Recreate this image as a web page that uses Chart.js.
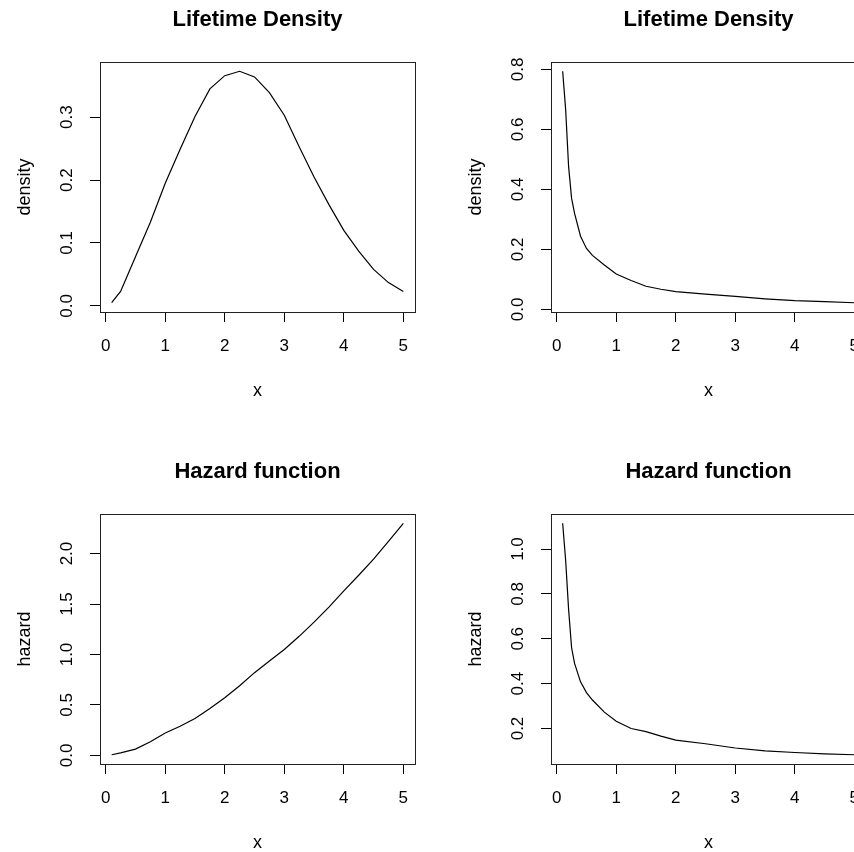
<!DOCTYPE html>
<html>
<head>
<meta charset="utf-8">
<script src="https://cdn.jsdelivr.net/npm/chart.js@4/dist/chart.umd.min.js"></script>
<style>
  body { margin: 0; width: 854px; height: 852px; overflow: hidden; background: #fff; position: relative; }
  .panel { position: absolute; width: 451px; height: 452px; }
</style>
</head>
<body>
<div class="panel" style="left:0;top:0"><canvas id="dens1" width="451" height="452"></canvas></div>
<div class="panel" style="left:451px;top:0"><canvas id="dens2" width="451" height="452"></canvas></div>
<div class="panel" style="left:0;top:452px"><canvas id="haz1" width="451" height="452"></canvas></div>
<div class="panel" style="left:451px;top:452px"><canvas id="haz2" width="451" height="452"></canvas></div>
<script>
// left column: increasing-hazard lifetime
const xLeft = [0.1, 0.25, 0.5, 0.75, 1, 1.25, 1.5, 1.75, 2, 2.25, 2.5, 2.75, 3, 3.25, 3.5, 3.75, 4, 4.25, 4.5, 4.75, 5];
const densityLeft = [0.005, 0.023, 0.078, 0.133, 0.195, 0.249, 0.301, 0.345, 0.366, 0.373, 0.364, 0.339, 0.303, 0.253, 0.205, 0.161, 0.120, 0.087, 0.058, 0.037, 0.023];
const hazardLeft = [0.007, 0.025, 0.063, 0.135, 0.222, 0.29, 0.366, 0.465, 0.572, 0.69, 0.82, 0.935, 1.05, 1.18, 1.32, 1.47, 1.63, 1.785, 1.945, 2.12, 2.3];

// right column: decreasing-hazard lifetime
const xRight = [0.1, 0.15, 0.2, 0.25, 0.3, 0.4, 0.5, 0.6, 0.8, 1, 1.25, 1.5, 1.75, 2, 2.5, 3, 3.5, 4, 4.5, 5];
const densityRight = [0.794, 0.667, 0.475, 0.37, 0.32, 0.244, 0.203, 0.18, 0.148, 0.118, 0.096, 0.077, 0.067, 0.059, 0.051, 0.043, 0.035, 0.029, 0.026, 0.022];
const hazardRight = [1.115, 0.95, 0.73, 0.56, 0.49, 0.408, 0.36, 0.327, 0.273, 0.232, 0.2, 0.186, 0.166, 0.148, 0.132, 0.113, 0.1, 0.093, 0.087, 0.083];

const xTicks = [0, 1, 2, 3, 4, 5];
const yTicksDensLeft = [0, 0.1, 0.2, 0.3];
const yTicksDensRight = [0, 0.2, 0.4, 0.6, 0.8];
const yTicksHazLeft = [0, 0.5, 1, 1.5, 2];
const yTicksHazRight = [0.2, 0.4, 0.6, 0.8, 1.0];

const FONT = "'Liberation Sans', Arial, Helvetica, sans-serif";

// R-style axis range: data range plus 4% each side
function rRange(arr) {
  const lo = Math.min(...arr), hi = Math.max(...arr);
  const pad = (hi - lo) * 0.04;
  return [lo - pad, hi + pad];
}

const boxPlugin = {
  id: 'box',
  afterDatasetsDraw(chart) {
    const { ctx, chartArea: a } = chart;
    ctx.save();
    ctx.strokeStyle = '#222';
    ctx.lineWidth = 1;
    ctx.strokeRect(Math.round(a.left) + 0.5, Math.round(a.top) + 0.5, Math.round(a.width), Math.round(a.height));
    ctx.restore();
  }
};

function makePanel(id, title, yLabel, xs, ys, yTicks) {
  const [xMin, xMax] = rRange(xs);
  const [yMin, yMax] = rRange(ys);
  const pts = xs.map((v, i) => ({ x: v, y: ys[i] }));
  new Chart(document.getElementById(id), {
    type: 'line',
    data: {
      datasets: [{
        data: pts,
        borderColor: '#000',
        borderWidth: 1.2,
        pointRadius: 0,
        tension: 0,
        fill: false
      }]
    },
    options: {
      responsive: false,
      animation: false,
      devicePixelRatio: 1,
      layout: { padding: { left: 0, right: 36, top: 0, bottom: 0 } },
      plugins: {
        legend: { display: false },
        tooltip: { enabled: false },
        title: {
          display: true,
          fullSize: false,
          text: title,
          color: '#000',
          font: { family: FONT, size: 22, weight: 'bold' },
          padding: { top: 7, bottom: 28.6 }
        }
      },
      scales: {
        x: {
          type: 'linear',
          min: xMin,
          max: xMax,
          afterBuildTicks: s => { s.ticks = xTicks.map(v => ({ value: v })); },
          afterFit: s => { s.height = 140; },
          border: { display: false },
          grid: { drawOnChartArea: false, tickLength: 10, color: '#000', lineWidth: 1 },
          ticks: { color: '#000', font: { family: FONT, size: 17 }, padding: 14, callback: v => String(v) },
          title: { display: true, text: 'x', color: '#000', font: { family: FONT, size: 18 }, padding: { top: 0, bottom: 50 } }
        },
        y: {
          type: 'linear',
          min: yMin,
          max: yMax,
          afterBuildTicks: s => { s.ticks = yTicks.map(v => ({ value: v })); },
          afterFit: s => { s.width = 100; },
          border: { display: false },
          grid: { drawOnChartArea: false, tickLength: 10, color: '#000', lineWidth: 1 },
          ticks: {
            color: '#000',
            font: { family: FONT, size: 17 },
            minRotation: 90,
            maxRotation: 90,
            crossAlign: 'center',
            padding: 11,
            callback: v => v.toFixed(1)
          },
          title: { display: true, text: yLabel, color: '#000', font: { family: FONT, size: 18 }, padding: { top: 14, bottom: 0 } }
        }
      }
    },
    plugins: [boxPlugin]
  });
}

makePanel('dens1', 'Lifetime Density', 'density', xLeft, densityLeft, yTicksDensLeft);
makePanel('dens2', 'Lifetime Density', 'density', xRight, densityRight, yTicksDensRight);
makePanel('haz1', 'Hazard function', 'hazard', xLeft, hazardLeft, yTicksHazLeft);
makePanel('haz2', 'Hazard function', 'hazard', xRight, hazardRight, yTicksHazRight);
</script>
</body>
</html>
